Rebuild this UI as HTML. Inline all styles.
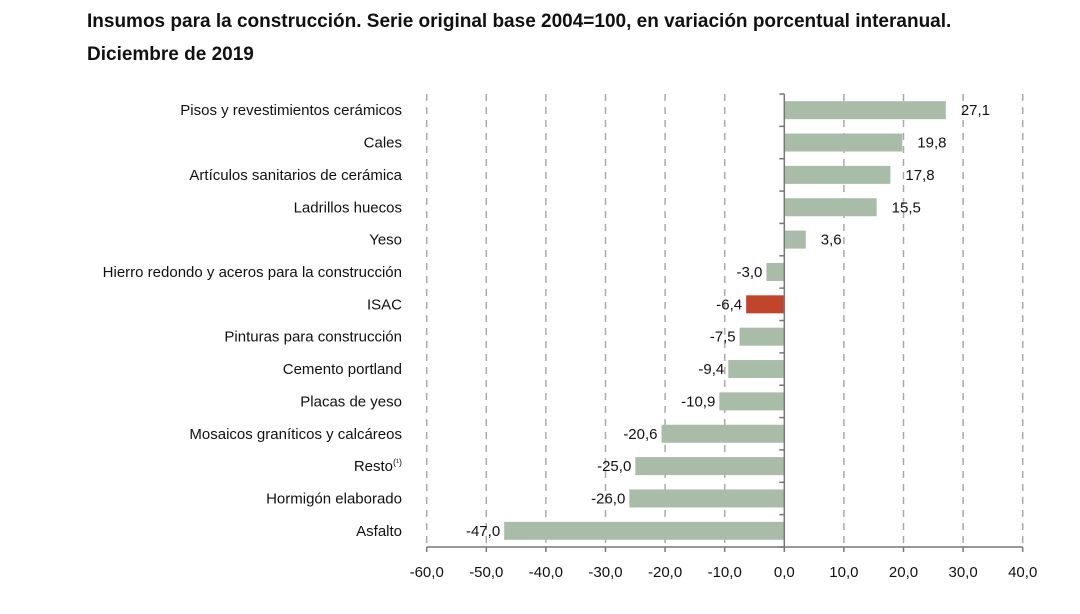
<!DOCTYPE html>
<html><head><meta charset="utf-8"><style>
body{margin:0;background:#fff;}
svg{display:block;font-family:"Liberation Sans",sans-serif;}
</style></head><body>
<svg id="chart" width="1080" height="614">
<text x="87" y="27" font-family="Liberation Sans Narrow, Liberation Sans, sans-serif" font-weight="bold" font-size="19" fill="#111">Insumos para la construcción. Serie original base 2004=100, en variación porcentual interanual.</text>
<text x="87" y="60" font-family="Liberation Sans Narrow, Liberation Sans, sans-serif" font-weight="bold" font-size="19" fill="#111">Diciembre de 2019</text>
<g id="grid"></g><g id="bars"></g><g id="axis"></g>
</svg>
<script>
const categories=["Pisos y revestimientos cerámicos","Cales","Artículos sanitarios de cerámica","Ladrillos huecos","Yeso","Hierro redondo y aceros para la construcción","ISAC","Pinturas para construcción","Cemento portland","Placas de yeso","Mosaicos graníticos y calcáreos","Resto","Hormigón elaborado","Asfalto"];
const values=[27.1,19.8,17.8,15.5,3.6,-3.0,-6.4,-7.5,-9.4,-10.9,-20.6,-25.0,-26.0,-47.0];
const ticks=[-60,-50,-40,-30,-20,-10,0,10,20,30,40];
const NS="http://www.w3.org/2000/svg";
const x=v=>784.3+(v)*5.96;
const top0=94,bot=547,rowH=(bot-top0)/categories.length;
const yc=i=>top0+rowH*(i+0.5);
function mk(t,a,p){const e=document.createElementNS(NS,t);for(const k in a)e.setAttribute(k,a[k]);p.appendChild(e);return e;}
const grid=document.getElementById('grid'),bars=document.getElementById('bars'),axis=document.getElementById('axis');
ticks.forEach(t=>{
 if(t!==0){const l=mk('line',{x1:x(t),x2:x(t),y1:top0,y2:bot,stroke:'#aaa','stroke-width':1.5,'stroke-dasharray':'7,6'},grid);
 
 }
 const tk=mk('line',{x1:x(t),x2:x(t),y1:bot,y2:bot+5,stroke:'#777','stroke-width':1.5},axis);
 
 
 const tl=mk('text',{x:x(t),y:bot+30,'text-anchor':'middle','font-size':15,fill:'#111'},axis);
 tl.textContent=t.toFixed(1).replace('.',',');
 
 
});
categories.forEach((c,i)=>{
 const v=values[i],y=yc(i);
 const r=mk('rect',{x:Math.min(x(0),x(v)),y:y-9,width:Math.abs(x(v)-x(0)),height:18,fill:c==='ISAC'?'#c1452b':'#a9bca8'},bars);
 
 
 const lb=mk('text',{x:402,y:y+5,'text-anchor':'end','font-size':15,fill:'#111'},bars);
 lb.textContent=c;
 if(c==='Resto'){const s=mk('tspan',{'font-size':9,dy:-6},lb);s.textContent='(¹)';}
 
 
 const vl=mk('text',{x:v>=0?x(v)+15:x(v)-4,y:y+5,'text-anchor':v>=0?'start':'end','font-size':15,fill:'#111'},bars);
 vl.textContent=v.toFixed(1).replace('.',',');
 
 
});
for(let i=0;i<=categories.length;i++){
 const t=mk('line',{x1:x(0)-5,x2:x(0),y1:top0+rowH*i,y2:top0+rowH*i,stroke:'#777','stroke-width':1.5},axis);
 
 
}
const ya=mk('line',{x1:x(0),x2:x(0),y1:top0,y2:bot,stroke:'#777','stroke-width':1.5},axis);


const xa=mk('line',{x1:x(-60),x2:x(40),y1:bot,y2:bot,stroke:'#777','stroke-width':1.5},axis);


</script>
</body></html>
